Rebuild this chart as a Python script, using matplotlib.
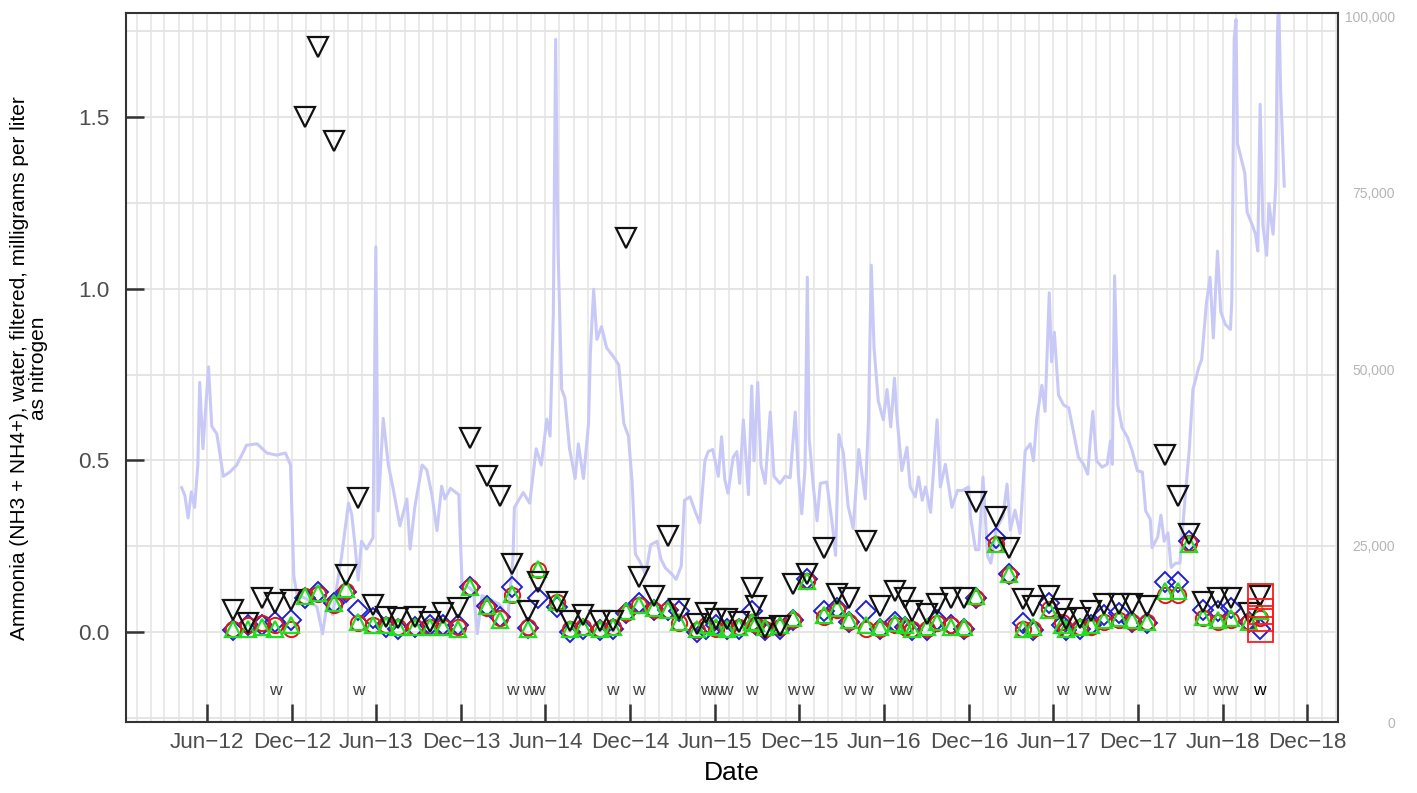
import matplotlib
matplotlib.use("Agg")
import matplotlib.pyplot as plt
import matplotlib.dates as mdates
import matplotlib.ticker as mticker
import matplotlib.transforms as mtransforms
import numpy as np
import pandas as pd

plt.rcParams['font.family'] = ['Liberation Sans', 'DejaVu Sans']

# daily discharge (right axis)
flow_dates = [
    "2012-04-07", "2012-04-14", "2012-04-21", "2012-04-28", "2012-05-05", "2012-05-12", "2012-05-16", "2012-05-23",
    "2012-06-04", "2012-06-11", "2012-06-22", "2012-07-06", "2012-07-20", "2012-08-04", "2012-08-25", "2012-09-17",
    "2012-10-08", "2012-10-29", "2012-11-17", "2012-11-28", "2012-12-05", "2012-12-12", "2013-01-03", "2013-01-24",
    "2013-02-05", "2013-02-15", "2013-02-27", "2013-03-10", "2013-03-18", "2013-04-02", "2013-04-09", "2013-04-16",
    "2013-04-23", "2013-04-30", "2013-05-11", "2013-05-25", "2013-05-31", "2013-06-05", "2013-06-16", "2013-06-27",
    "2013-07-07", "2013-07-22", "2013-08-06", "2013-08-13", "2013-08-23", "2013-09-08", "2013-09-18", "2013-09-29",
    "2013-10-10", "2013-10-20", "2013-10-27", "2013-11-08", "2013-11-26", "2013-12-03", "2013-12-17", "2013-12-28",
    "2014-01-05", "2014-01-15", "2014-02-03", "2014-02-21", "2014-03-12", "2014-03-23", "2014-03-26", "2014-04-14",
    "2014-04-28", "2014-05-12", "2014-05-23", "2014-06-04", "2014-06-11", "2014-06-18", "2014-06-23", "2014-06-28",
    "2014-07-06", "2014-07-13", "2014-07-23", "2014-08-04", "2014-08-11", "2014-08-22", "2014-09-02", "2014-09-06",
    "2014-09-13", "2014-09-20", "2014-09-30", "2014-10-11", "2014-10-25", "2014-11-06", "2014-11-17", "2014-11-27",
    "2014-12-05", "2014-12-12", "2014-12-22", "2015-01-03", "2015-01-14", "2015-01-28", "2015-02-05", "2015-02-15",
    "2015-02-28", "2015-03-10", "2015-03-21", "2015-03-28", "2015-04-09", "2015-04-19", "2015-04-30", "2015-05-11",
    "2015-05-18", "2015-05-28", "2015-06-09", "2015-06-16", "2015-06-23", "2015-06-30", "2015-07-11", "2015-07-19",
    "2015-07-25", "2015-08-02", "2015-08-13", "2015-08-20", "2015-08-25", "2015-09-02", "2015-09-09", "2015-09-18",
    "2015-09-29", "2015-10-07", "2015-10-20", "2015-10-31", "2015-11-11", "2015-11-22", "2015-11-29", "2015-12-06",
    "2015-12-13", "2015-12-18", "2015-12-22", "2015-12-31", "2016-01-08", "2016-01-15", "2016-01-29", "2016-02-10",
    "2016-02-17", "2016-02-24", "2016-03-05", "2016-03-15", "2016-03-26", "2016-04-07", "2016-04-21", "2016-04-28",
    "2016-05-04", "2016-05-10", "2016-05-19", "2016-05-30", "2016-06-07", "2016-06-15", "2016-06-23", "2016-06-28",
    "2016-07-09", "2016-07-20", "2016-07-27", "2016-08-07", "2016-08-14", "2016-08-22", "2016-08-29", "2016-09-09",
    "2016-09-23", "2016-09-30", "2016-10-11", "2016-10-25", "2016-11-06", "2016-11-17", "2016-11-30", "2016-12-04",
    "2016-12-15", "2016-12-22", "2016-12-31", "2017-01-10", "2017-01-17", "2017-01-28", "2017-02-12", "2017-02-21",
    "2017-02-28", "2017-03-10", "2017-03-21", "2017-04-01", "2017-04-12", "2017-04-19", "2017-04-26", "2017-05-07",
    "2017-05-14", "2017-05-23", "2017-05-28", "2017-06-03", "2017-06-12", "2017-06-23", "2017-07-04", "2017-07-14",
    "2017-07-25", "2017-08-05", "2017-08-14", "2017-08-20", "2017-08-25", "2017-09-02", "2017-09-14", "2017-09-25",
    "2017-10-02", "2017-10-06", "2017-10-11", "2017-10-18", "2017-10-27", "2017-11-08", "2017-11-18", "2017-11-29",
    "2017-12-10", "2017-12-17", "2017-12-27", "2017-12-31", "2018-01-12", "2018-01-19", "2018-01-26", "2018-02-03",
    "2018-02-10", "2018-02-20", "2018-03-01", "2018-03-12", "2018-03-21", "2018-03-29", "2018-04-10", "2018-04-17",
    "2018-04-27", "2018-05-05", "2018-05-12", "2018-05-21", "2018-05-28", "2018-06-07", "2018-06-18", "2018-06-21",
    "2018-06-26", "2018-06-30", "2018-07-03", "2018-07-12", "2018-07-19", "2018-07-24", "2018-08-04", "2018-08-11",
    "2018-08-16", "2018-08-21", "2018-08-27", "2018-09-04", "2018-09-09", "2018-09-18", "2018-09-24", "2018-09-27",
    "2018-09-30", "2018-10-04", "2018-10-12",
]
flow_values = [
    33200, 32100, 28900, 32600, 30400, 36400, 48100, 38700,
    50300, 41900, 40800, 34800, 35400, 36400, 39200, 39400,
    38100, 37800, 38100, 36400, 20700, 18000, 17400, 16300,
    12500, 16800, 15200, 20100, 23400, 31000, 29400, 25100,
    20100, 25600, 24500, 26100, 67300, 29900, 43000, 36400,
    33200, 27800, 31600, 24500, 30400, 36400, 35700, 32200,
    27100, 33400, 31600, 33100, 32200, 19700, 19100, 18500,
    12500, 17900, 17300, 16700, 14900, 23300, 30400, 32500,
    31000, 38700, 36400, 42900, 40500, 57800, 96700, 67300,
    47100, 45900, 38700, 34500, 39400, 34500, 42300, 52400,
    61300, 54200, 56000, 53000, 51800, 50600, 42300, 40500,
    34000, 23800, 22700, 20900, 25100, 25600, 23100, 21800,
    21000, 20200, 22100, 31400, 31900, 30000, 28200, 37000,
    38300, 38600, 34800, 40400, 34300, 32400, 37500, 38300,
    33800, 42800, 32200, 47600, 37000, 48100, 36400, 33800,
    43900, 34800, 33800, 34800, 34600, 43900, 34800, 29500,
    35900, 63000, 40200, 33300, 28500, 33800, 34000, 27900,
    23600, 40700, 38000, 30600, 27400, 38600, 31600, 42800,
    64700, 53000, 45500, 42800, 47100, 41800, 48700, 43500,
    35600, 38900, 33300, 31900, 34700, 31400, 33300, 29700,
    42800, 33300, 36500, 30400, 32800, 32800, 33300, 29100,
    24400, 24400, 34700, 23500, 22500, 27200, 29100, 33700,
    27200, 30000, 26700, 38400, 39400, 37000, 43000, 47700,
    44000, 60800, 51000, 55200, 46300, 44900, 44500, 41200,
    37500, 36500, 35100, 40300, 44000, 37000, 36100, 36500,
    39800, 36500, 63200, 44900, 41700, 40300, 38400, 35600,
    35400, 29900, 28700, 24700, 26200, 29300, 25600, 26800,
    21900, 22500, 22500, 31700, 38500, 47100, 50100, 51400,
    59300, 63000, 54400, 66700, 58100, 56300, 55600, 59900,
    96700, 99500, 82000, 79600, 77700, 72200, 70400, 69100,
    66700, 87500, 70400, 66100, 73400, 69100, 76500, 96700,
    103000, 90000, 75900,
]

# sampled concentrations (left axis)
sample_dates = [
    "2012-07-27", "2012-08-29", "2012-09-27", "2012-10-26", "2012-11-30", "2012-12-30", "2013-01-27", "2013-03-01",
    "2013-03-28", "2013-04-23", "2013-05-25", "2013-06-23", "2013-07-18", "2013-08-24", "2013-09-25", "2013-10-24",
    "2013-11-24", "2013-12-21", "2014-01-25", "2014-02-23", "2014-03-21", "2014-04-25", "2014-05-16", "2014-06-25",
    "2014-07-23", "2014-08-22", "2014-09-27", "2014-10-24", "2014-11-22", "2014-12-19", "2015-01-21", "2015-02-20",
    "2015-03-17", "2015-04-23", "2015-05-14", "2015-06-04", "2015-06-27", "2015-07-24", "2015-08-20", "2015-08-29",
    "2015-09-18", "2015-10-20", "2015-11-18", "2015-12-17", "2016-01-22", "2016-02-21", "2016-03-18", "2016-04-23",
    "2016-05-23", "2016-06-25", "2016-07-16", "2016-07-30", "2016-09-02", "2016-09-23", "2016-10-22", "2016-11-19",
    "2016-12-15", "2017-01-28", "2017-02-25", "2017-03-27", "2017-04-18", "2017-05-23", "2017-06-20", "2017-06-29",
    "2017-07-28", "2017-08-20", "2017-09-18", "2017-10-20", "2017-11-18", "2017-12-20", "2018-01-28", "2018-02-24",
    "2018-03-21", "2018-04-19", "2018-05-23", "2018-06-20", "2018-07-27", "2018-08-20",
]
conc_black = [
    0.064, 0.026, 0.10, 0.084, 0.093, 1.50, 1.705, 1.43,
    0.166, 0.39, 0.079, 0.044, 0.04, 0.044, 0.03, 0.055,
    0.07, 0.565, 0.455, 0.395, 0.198, 0.06, 0.147, 0.088,
    0.032, 0.051, 0.032, 0.032, 1.149, 0.161, 0.105, 0.28,
    0.067, 0.022, 0.055, 0.038, 0.038, 0.028, 0.127, 0.077,
    0.012, 0.017, 0.14, 0.17, 0.245, 0.11, 0.10, 0.265,
    0.075, 0.12, 0.10, 0.061, 0.052, 0.081, 0.10, 0.10,
    0.38, 0.335, 0.245, 0.095, 0.075, 0.105, 0.067, 0.038,
    0.042, 0.061, 0.081, 0.081, 0.081, 0.075, 0.515, 0.395,
    0.285, 0.088, 0.10, 0.10, 0.056, 0.105,
]
conc_blue = [
    0.006, 0.02, 0.02, 0.03, 0.035, 0.10, 0.118, 0.085,
    0.118, 0.065, 0.04, 0.015, 0.01, 0.015, 0.02, 0.02,
    0.02, 0.13, 0.076, 0.045, 0.13, 0.012, 0.10, 0.074,
    0.0, 0.01, 0.005, 0.01, 0.055, 0.085, 0.064, 0.064,
    0.06, 0.0, 0.01, 0.02, 0.01, 0.01, 0.06, 0.02,
    0.005, 0.01, 0.035, 0.155, 0.06, 0.07, 0.03, 0.06,
    0.01, 0.03, 0.015, 0.005, 0.005, 0.035, 0.02, 0.01,
    0.10, 0.275, 0.17, 0.025, 0.005, 0.086, 0.02, 0.005,
    0.01, 0.02, 0.05, 0.055, 0.03, 0.025, 0.145, 0.145,
    0.265, 0.064, 0.06, 0.07, 0.03, 0.01,
]
conc_red = [
    0.01, 0.02, 0.025, 0.02, 0.01, 0.105, 0.11, 0.08,
    0.12, 0.025, 0.02, 0.02, 0.015, 0.015, 0.015, 0.015,
    0.015, 0.13, 0.07, 0.04, 0.108, 0.015, 0.18, 0.088,
    0.01, 0.015, 0.01, 0.015, 0.055, 0.08, 0.065, 0.065,
    0.026, 0.005, 0.02, 0.01, 0.01, 0.015, 0.03, 0.02,
    0.01, 0.015, 0.035, 0.15, 0.045, 0.065, 0.03, 0.01,
    0.01, 0.02, 0.015, 0.01, 0.01, 0.025, 0.02, 0.01,
    0.10, 0.255, 0.165, 0.01, 0.01, 0.068, 0.03, 0.01,
    0.015, 0.015, 0.03, 0.035, 0.03, 0.03, 0.107, 0.107,
    0.26, 0.04, 0.03, 0.035, 0.03, 0.04,
]
conc_green = [
    0.01, 0.01, 0.015, 0.01, 0.02, 0.105, 0.115, 0.085,
    0.125, 0.03, 0.02, 0.02, 0.015, 0.015, 0.015, 0.015,
    0.01, 0.13, 0.075, 0.035, 0.11, 0.01, 0.185, 0.088,
    0.01, 0.015, 0.01, 0.015, 0.06, 0.08, 0.07, 0.065,
    0.03, 0.01, 0.02, 0.015, 0.01, 0.015, 0.03, 0.025,
    0.015, 0.02, 0.04, 0.15, 0.05, 0.07, 0.035, 0.02,
    0.015, 0.025, 0.02, 0.01, 0.015, 0.03, 0.015, 0.015,
    0.105, 0.255, 0.17, 0.01, 0.015, 0.065, 0.02, 0.01,
    0.015, 0.02, 0.035, 0.04, 0.035, 0.03, 0.12, 0.12,
    0.255, 0.045, 0.035, 0.04, 0.03, 0.06,
]

# samples flagged with a "w" remark
w_dates = [
    "2012-10-26", "2013-04-23", "2014-03-21", "2014-04-25", "2014-05-16", "2014-10-24", "2014-12-19",
    "2015-05-14", "2015-06-04", "2015-06-27", "2015-08-20", "2015-11-18", "2015-12-17", "2016-03-18",
    "2016-04-23", "2016-06-25", "2016-07-16", "2017-02-25", "2017-06-20", "2017-08-20", "2017-09-18",
    "2018-03-21", "2018-05-23", "2018-06-20", "2018-08-20",
]

flow_t = pd.to_datetime(flow_dates)
samp_t = pd.to_datetime(sample_dates)

fig = plt.figure(figsize=(14.17, 7.93), dpi=100)
ax = fig.add_axes([126 / 1417, 71 / 793, 1212 / 1417, 709 / 793])
ax2 = ax.twinx()
ax.set_zorder(ax2.get_zorder() + 1)
ax.patch.set_visible(False)

xmin, xmax = pd.Timestamp("2011-12-09"), pd.Timestamp("2019-02-05")

# background grid, drawn on the back axes so the flow line sits on top
for d in pd.date_range("2011-12-01", "2019-02-01", freq="MS"):
    ax2.axvline(d, color="#e8e8e8", lw=1.3, zorder=0)
hgrid = mtransforms.blended_transform_factory(ax2.transAxes, ax.transData)
for v in np.arange(-0.25, 1.76, 0.25):
    ax2.plot([0, 1], [v, v], transform=hgrid, color="#e3e3e3", lw=1.3, zorder=0)

ax2.plot(flow_t, flow_values, color="#c9c9f7", lw=2.2, zorder=1)

ax.plot(samp_t, conc_blue, ls="none", marker="D", ms=10, mfc="none", mec="#2020d0", mew=1.4)
ax.plot(samp_t, conc_red, ls="none", marker="o", ms=11, mfc="none", mec="#e01515", mew=1.4)
ax.plot(samp_t, conc_green, ls="none", marker="^", ms=12, mfc="none", mec="#22dd22", mew=1.6)
ax.plot(samp_t, conc_black, ls="none", marker="v", ms=14.5, mfc="none", mec="#111111", mew=1.6)

# latest sample highlighted with red boxes
last_vals = [conc_black[-1], conc_green[-1], conc_red[-1], conc_blue[-1]]
ax.plot([samp_t[-1]] * 4, last_vals, ls="none", marker="s", ms=18, mfc="none", mec="#ff1a1a", mew=1.3)

for i, d in enumerate(w_dates):
    col = "black" if i == len(w_dates) - 1 else "#444444"
    ax.text(pd.Timestamp(d), -0.17, "w", ha="center", va="center", fontsize=12.5, color=col)

ax.set_xlim(xmin, xmax)
ax.set_ylim(-0.262, 1.803)
ax2.set_ylim(0, 100425)

ax.xaxis.set_major_locator(mdates.MonthLocator(bymonth=[6, 12]))
ax.xaxis.set_major_formatter(mticker.FuncFormatter(
    lambda x, p: mdates.num2date(x).strftime("%b-%y").replace("-", "\u2212")))
ax.set_yticks([0, 0.5, 1.0, 1.5])
ax.yaxis.set_major_formatter(mticker.FormatStrFormatter("%.1f"))
ax.tick_params(axis="x", direction="in", length=13, width=1.8, color="#333333",
               labelcolor="#4d4d4d", labelsize=16.2, pad=7, top=False)
ax.tick_params(axis="y", direction="in", length=13, width=1.8, color="#333333",
               labelcolor="#4d4d4d", labelsize=16.2, pad=12)

ax2.set_yticks([0, 25000, 50000, 75000, 100000])
ax2.yaxis.set_major_formatter(mticker.FuncFormatter(lambda v, p: f"{int(v):,}"))
ax2.tick_params(axis="y", length=0, pad=41, labelsize=10, labelcolor="#b5b5b5")
for lab in ax2.get_yticklabels():
    lab.set_horizontalalignment("right")

for s in ax.spines.values():
    s.set_color("#333333")
    s.set_linewidth(1.5)
for s in ax2.spines.values():
    s.set_visible(False)

fig.text(29 / 1417, 1 - 368 / 793,
         "Ammonia (NH3 + NH4+), water, filtered, milligrams per liter\nas nitrogen",
         rotation=90, ha="center", va="center", fontsize=15, linespacing=1.05,
         multialignment="center")
fig.text(732 / 1417, 1 - 773 / 793, "Date", ha="center", va="center", fontsize=19)

fig.savefig("out.png", dpi=100)
